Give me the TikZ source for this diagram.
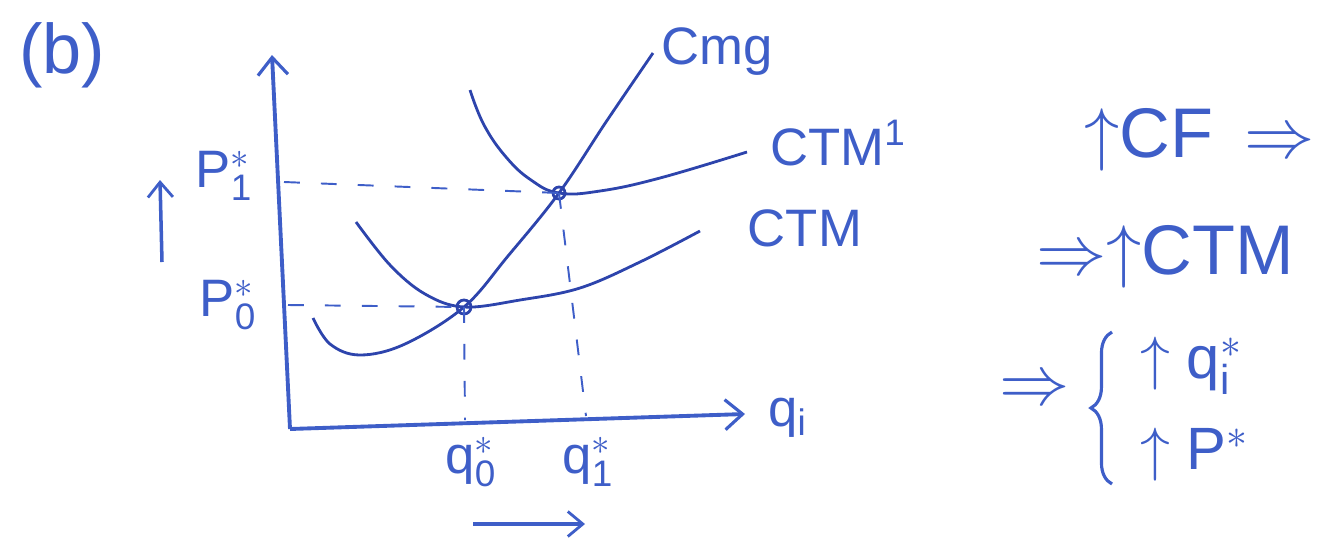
\documentclass[tikz,border=0pt]{standalone}
\usepackage{fix-cm}
\usepackage{amsmath}
\usepackage{fontspec}
\setmainfont{Liberation Sans}
\setsansfont{Liberation Sans}
\usepackage{tikz}
\usetikzlibrary{arrows.meta, decorations.pathreplacing}
\definecolor{ink}{RGB}{62,94,200}
\definecolor{darkink}{RGB}{45,68,172}

\begin{document}
\begin{tikzpicture}[x=0.02cm, y=-0.02cm]
    % Define styles
    \tikzstyle{lbl} = [text=ink, inner sep=0pt, font=\fontsize{30}{34}\selectfont]
    \tikzstyle{biglbl} = [text=ink, inner sep=0pt, font=\fontsize{40}{46}\selectfont]
    \tikzstyle{axis} = [draw=ink, line width=2.2pt, -{Straight Barb[length=3.5mm, width=6mm, line width=1.8pt]}]
    \tikzstyle{curve} = [draw=darkink, line width=1.6pt]
    \tikzstyle{guide} = [draw=ink, line width=1.1pt, dash pattern=on 9pt off 12pt]
    \tikzstyle{arrow} = [draw=ink, line width=2pt, -{Straight Barb[length=3mm, width=5mm, line width=1.6pt]}]

    \useasboundingbox (0,0) rectangle (1333,542);

    % Points
    \coordinate (O) at (290,429);
    \coordinate (ytop) at (272,55);
    \coordinate (xend) at (745,414);
    \coordinate (E0) at (464,307);
    \coordinate (E1) at (559,193);
    \coordinate (ya1) at (284,182);
    \coordinate (ya0) at (288,305);
    \coordinate (xa0) at (465,420);
    \coordinate (xa1) at (586,416);
    \coordinate (upA) at (162,262);
    \coordinate (upB) at (160,180);
    \coordinate (shA) at (473,524);
    \coordinate (shB) at (585,524);
    \coordinate (brB) at (1112,484);
    \coordinate (brT) at (1112,332);

    % Nodes
    \node (b) [biglbl] at (62,55) {(b)};
    \node (p1) [lbl] at (224,176) {$\mathsf{P}^*_{\mathsf{1}}$};
    \node (p0) [lbl] at (228,305) {$\mathsf{P}^*_{\mathsf{0}}$};
    \node (q0) [lbl] at (471,462) {$\mathsf{q}^*_{\mathsf{0}}$};
    \node (q1) [lbl] at (588,462) {$\mathsf{q}^*_{\mathsf{1}}$};
    \node (qi) [lbl, anchor=west] at (768,418) {$\mathsf{q}_{\mathsf{i}}$};
    \node (cmg) [lbl] at (717,52) {Cmg};
    \node (ctm1) [lbl] at (838,143) {CTM\textsuperscript{1}};
    \node (ctm) [lbl] at (805,228) {CTM};
    \node (cf) [biglbl] at (1200,140) {$\uparrow$CF \,$\Rightarrow$};
    \node (ctmr) [biglbl] at (1165,257) {$\Rightarrow\uparrow$CTM};
    \node (impl) [biglbl] at (1035,392) {$\Rightarrow$};
    \node (upq) [lbl, anchor=west, font=\fontsize{34}{40}\selectfont] at (1140,366) {$\uparrow\mathsf{q}^*_{\mathsf{i}}$};
    \node (upp) [lbl, anchor=west, font=\fontsize{34}{40}\selectfont] at (1140,455) {$\uparrow\mathsf{P}^*$};

    % Curves
    \draw [curve] plot [smooth, tension=0.6] coordinates {(313,318) (330,344) (360,355) (405,344) (E0) (508,256) (E1) (606,122) (653,53)};
    \draw [curve] plot [smooth, tension=0.6] coordinates {(356,222) (390,265) (425,294) (E0) (520,300) (580,288) (640,262) (700,231)};
    \draw [curve] plot [smooth, tension=0.7] coordinates {(470,90) (484,125) (506,157) (531,180) (E1) (600,191) (660,178) (747,152)};
    \draw [curve] (E0) circle (7);
    \draw [curve] (E1) circle (6);

    % Arrows
    \draw [axis] (O) -- (ytop);
    \draw [axis] (O) -- (xend);
    \draw [guide] (ya1) -- (E1);
    \draw [guide] (ya0) -- (E0);
    \draw [guide] (E0) -- (xa0);
    \draw [guide] (E1) -- (xa1);
    \draw [arrow] (upA) -- (upB);
    \draw [arrow] (shA) -- (shB);
    \draw [draw=ink, line width=1.8pt, decorate, decoration={brace, amplitude=12pt}] (brB) -- (brT);
\end{tikzpicture}
\end{document}
